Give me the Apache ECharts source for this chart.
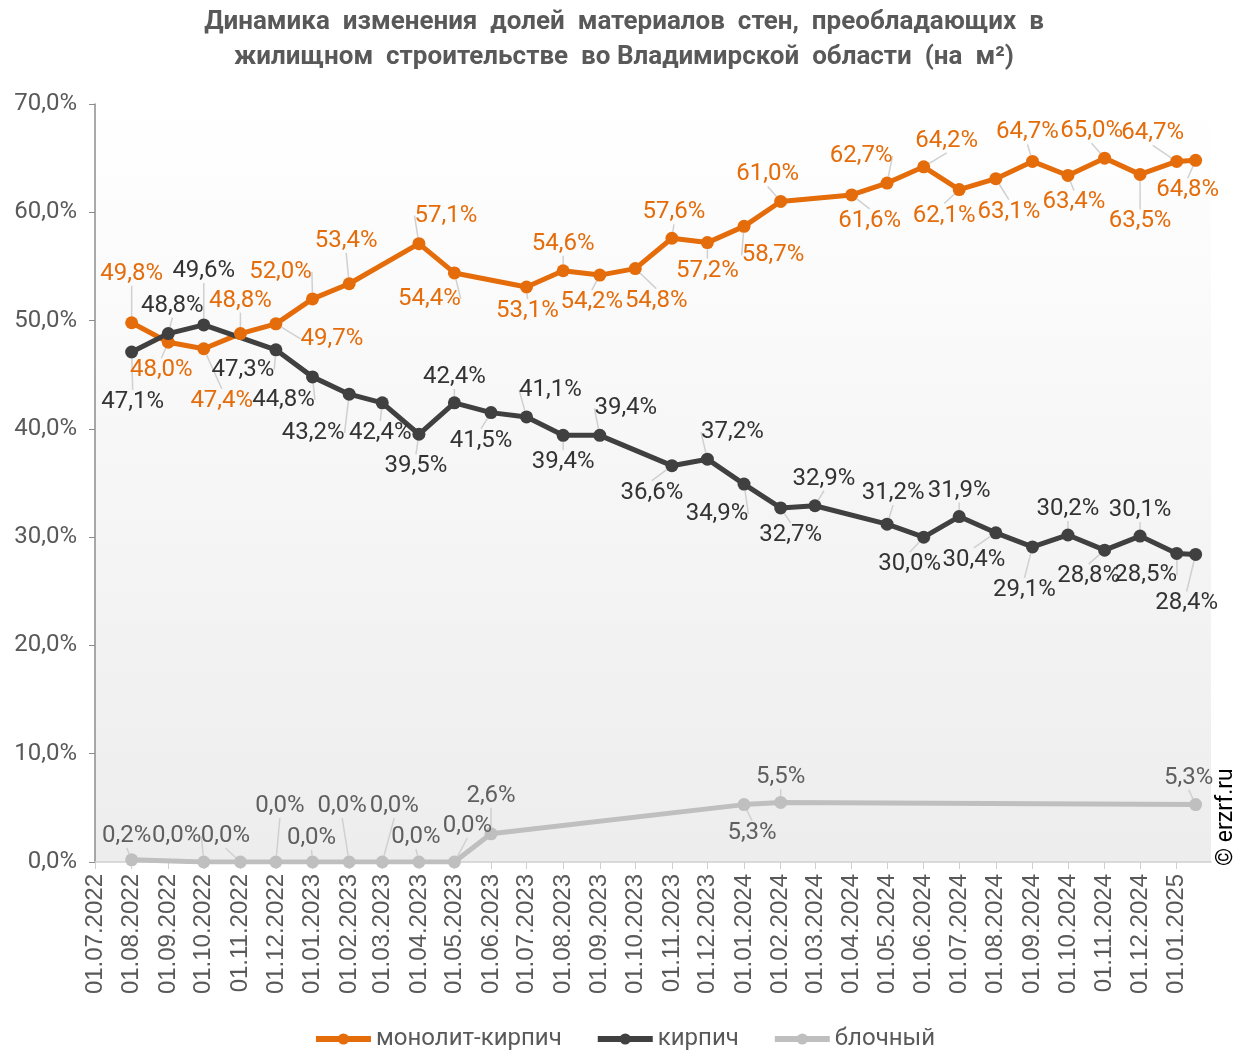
<!DOCTYPE html>
<html>
<head>
<meta charset="utf-8">
<script src="https://cdn.jsdelivr.net/npm/echarts@6/dist/echarts.min.js"></script>
<style>
  html, body { margin: 0; padding: 0; background: #fff; }
  #chart { width: 1248px; height: 1051px; }
</style>
</head>
<body>
<div id="chart"></div>
<script>
// даты замеров
var dates = [
  '2022-08-01', '2022-09-01', '2022-10-01', '2022-11-01', '2022-12-01',
  '2023-01-01', '2023-02-01', '2023-03-01', '2023-04-01', '2023-05-01', '2023-06-01',
  '2023-07-01', '2023-08-01', '2023-09-01', '2023-10-01', '2023-11-01', '2023-12-01',
  '2024-01-01', '2024-02-01', '2024-03-01', '2024-04-01', '2024-05-01', '2024-06-01',
  '2024-07-01', '2024-08-01', '2024-09-01', '2024-10-01', '2024-11-01', '2024-12-01',
  '2025-01-01', '2025-01-17'
];
// монолит-кирпич
var monolithBrick = [
  49.8, 48.0, 47.4, 48.8, 49.7,
  52.0, 53.4, null, 57.1, 54.4, null,
  53.1, 54.6, 54.2, 54.8, 57.6, 57.2,
  58.7, 61.0, null, 61.6, 62.7, 64.2,
  62.1, 63.1, 64.7, 63.4, 65.0, 63.5,
  64.7, 64.8
];
// кирпич
var brick = [
  47.1, 48.8, 49.6, null, 47.3,
  44.8, 43.2, 42.4, 39.5, 42.4, 41.5,
  41.1, 39.4, 39.4, null, 36.6, 37.2,
  34.9, 32.7, 32.9, null, 31.2, 30.0,
  31.9, 30.4, 29.1, 30.2, 28.8, 30.1,
  28.5, 28.4
];
// блочный
var block = [
  0.2, null, 0.0, 0.0, 0.0,
  0.0, 0.0, 0.0, 0.0, 0.0, 2.6,
  null, null, null, null, null, null,
  5.3, 5.5, null, null, null, null,
  null, null, null, null, null, null,
  null, 5.3
];
var seriesNames = ['монолит-кирпич', 'кирпич', 'блочный'];

// смещения подписей относительно точки (dx, dy)
var offsMonolith = [
  [0,-49],[-7,28],[18,52],[0,-33],[56,15],
  [-32,-27],[-3,-43],null,[27,-28],[-25,26],null,
  [1,24],[0,-27],[-8,27],[21,32],[2,-26],[0,28],
  [29,29],[-13,-27],null,[18,26],[-26,-27],[23,-26],
  [-15,26],[13,33],[-5,-29],[6,27],[-13,-27],[0,47],
  [-24,-28],[-8,30]
];
var offsBrick = [
  [1,50],[4,-28],[0,-54],null,[-33,20],
  [-29,23],[-36,39],[-2,30],[-3,32],[0,-26],[-10,28],
  [24,-27],[0,27],[26,-27],null,[-20,27],[25,-27],
  [-27,30],[10,27],[9,-27],null,[6,-31],[-14,27],
  [0,-26],[-22,27],[-8,43],[0,-26],[-16,26],[0,-26],
  [-31,22],[-9,49]
];
var offsBlock = [
  [-5,-24],null,[-27,-26],[-15,-26],[4,-56],
  [-1,-24],[-7,-56],[12,-56],[-3,-25],[13,-36],[0,-38],
  null,null,null,null,null,null,
  [8,28],[0,-25],null,null,null,null,
  null,null,null,null,null,null,
  null,[-7,-27]
];

function toTs(s) {
  var p = s.split('-');
  return new Date(+p[0], +p[1] - 1, +p[2]).getTime();
}
function pct(v) {
  return v.toFixed(1).replace('.', ',') + '%';
}
function pairs(values) {
  return dates.map(function (d, i) { return [toTs(d), values[i]]; });
}

function makeSeries(name, values, color, labelColor, offs) {
  return {
    name: name,
    type: 'line',
    data: pairs(values),
    connectNulls: true,
    symbol: 'circle',
    symbolSize: 13,
    lineStyle: { color: color, width: 5 },
    itemStyle: { color: color },
    label: {
      show: true,
      position: 'inside',
      color: labelColor,
      fontSize: 24,
      fontFamily: 'Roboto',
      formatter: function (p) { return pct(p.value[1]); }
    },
    labelLine: {
      show: true,
      lineStyle: { color: '#d0d0d0', width: 1.5 }
    },
    labelLayout: function (p) {
      var o = offs[p.dataIndex] || [0, -25];
      return { dx: o[0], dy: o[1] };
    },
    emphasis: { disabled: true }
  };
}

var chart = echarts.init(document.getElementById('chart'));
var option = {
  animation: false,
  backgroundColor: '#fff',
  title: {
    text: 'Динамика  изменения  долей  материалов  стен,  преобладающих  в\nжилищном  строительстве  во Владимирской  области  (на  м²)',
    left: 'center',
    top: 0,
    textStyle: {
      fontFamily: 'Roboto',
      fontSize: 26,
      fontWeight: 'bold',
      color: '#595959',
      lineHeight: 35
    }
  },
  grid: {
    left: 95,
    right: 37,
    top: 104,
    bottom: 189,
    show: true,
    borderWidth: 0,
    backgroundColor: new echarts.graphic.LinearGradient(0, 0, 0, 1, [
      { offset: 0, color: '#ffffff' },
      { offset: 1, color: '#ededed' }
    ])
  },
  legend: {
    bottom: -5,
    left: 'center',
    itemWidth: 55,
    itemHeight: 14,
    itemGap: 33,
    textStyle: { fontFamily: 'Roboto', fontSize: 24, color: '#595959' },
    lineStyle: { width: 6 },
    data: seriesNames
  },
  xAxis: {
    type: 'time',
    min: toTs('2022-07-01'),
    max: toTs('2025-01-30'),
    splitNumber: 31,
    minInterval: 28 * 864e5,
    maxInterval: 31 * 864e5,
    axisLine: { lineStyle: { color: '#d0d0d0', width: 1.5 } },
    axisTick: { show: true, length: 7, lineStyle: { color: '#d0d0d0' } },
    splitLine: { show: false },
    axisLabel: {
      rotate: 90,
      margin: 12,
      fontFamily: 'Liberation Sans',
      fontSize: 24,
      color: '#595959',
      hideOverlap: false,
      showMinLabel: true,
      formatter: function (v) {
        return echarts.time.format(v, '{dd}.{MM}.{yyyy}', false);
      }
    }
  },
  yAxis: {
    type: 'value',
    min: 0,
    max: 70,
    interval: 10,
    axisLine: { show: true, lineStyle: { color: '#8c8c8c', width: 1.5 } },
    axisTick: { show: true, length: 6, lineStyle: { color: '#8c8c8c' } },
    splitLine: { show: false },
    axisLabel: {
      margin: 18,
      fontFamily: 'Roboto',
      fontSize: 24,
      color: '#595959',
      formatter: function (v) { return pct(v); }
    }
  },
  graphic: [{
    type: 'text',
    x: 1215,
    y: 866,
    rotation: Math.PI / 2,
    style: {
      text: '© erzrf.ru',
      fontFamily: 'Roboto',
      fontSize: 23,
      fill: '#000'
    }
  }],
  series: [
    makeSeries(seriesNames[0], monolithBrick, '#E46C0A', '#E46C0A', offsMonolith),
    makeSeries(seriesNames[1], brick, '#404040', '#333333', offsBrick),
    makeSeries(seriesNames[2], block, '#BFBFBF', '#5f5f5f', offsBlock)
  ]
};
chart.setOption(option);
</script>
</body>
</html>
